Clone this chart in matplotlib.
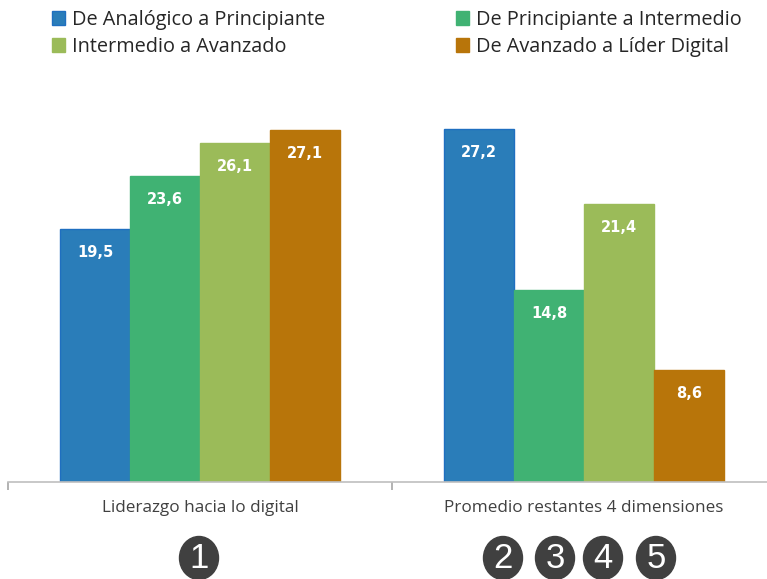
import matplotlib.pyplot as plt
from matplotlib.patches import Ellipse
import numpy as np

categories = ["Liderazgo hacia lo digital", "Promedio restantes 4 dimensiones"]
series = ["De Analógico a Principiante", "De Principiante a Intermedio",
          "Intermedio a Avanzado", "De Avanzado a Líder Digital"]
values = [
    [19.5, 27.2],
    [23.6, 14.8],
    [26.1, 21.4],
    [27.1, 8.6],
]
colors = ["#2a7db9", "#40b273", "#9bbb59", "#b8750a"]
edges = ["#1f6fc0", "#40b273", "#9bbb59", "#b8750a"]
badges = ["1", "2", "3", "4", "5"]

plt.rcParams['font.family'] = ['Open Sans', 'DejaVu Sans']

fig = plt.figure(figsize=(7.67, 5.79), dpi=100)
# plot area runs a little past the right edge, as in the source
ax = fig.add_axes([8 / 767, 97 / 579, 768 / 767, 385 / 579])

x = np.arange(len(categories))
w = 0.182
bars = []
for i, (s, v) in enumerate(zip(series, values)):
    b = ax.bar(x + (i - 1.5) * w, v, w, color=colors[i], edgecolor=edges[i],
               linewidth=1, label=s)
    bars.append(b)
    for rect, val in zip(b, v):
        ax.annotate(f"{val:.1f}".replace(".", ","),
                    (rect.get_x() + rect.get_width() / 2, rect.get_height()),
                    xytext=(0, -17), textcoords="offset points",
                    ha="center", va="center", color="white",
                    fontsize=10.5, fontweight="bold", family="DejaVu Sans")

ax.set_xlim(-0.5, 1.5)
ax.set_ylim(0, 29.66)
for sp in ["top", "right", "left"]:
    ax.spines[sp].set_visible(False)
ax.spines["bottom"].set_color("#bfbfbf")
ax.spines["bottom"].set_linewidth(1.2)
ax.set_yticks([])
ax.set_xticks([-0.5, 0.5, 1.5])
ax.set_xticklabels(["", "", ""])
ax.tick_params(axis="x", length=6, width=1.2, color="#a6a6a6")
for xi, c in zip(x, categories):
    ax.text(xi, -0.067, c, transform=ax.get_xaxis_transform(), ha="center",
            va="center", fontsize=12.3, color="#404040")

handles = [bars[0], bars[2], bars[1], bars[3]]
labels = [series[0], series[2], series[1], series[3]]
fig.legend(handles, labels, ncol=2, loc="upper left",
           bbox_to_anchor=(52 / 767, 1 - 10 / 579), frameon=False,
           fontsize=14.3, borderpad=0, borderaxespad=0,
           handlelength=0.65, handleheight=0.65, handletextpad=0.35,
           columnspacing=6.6, labelspacing=0.35, labelcolor="#262626")

# numbered badges under the groups
badge_x = [199, 503, 555, 603, 656]
for bx, t in zip(badge_x, badges):
    fig.patches.append(Ellipse((bx / 767, 1 - 558 / 579), 39 / 767, 43 / 579,
                               transform=fig.transFigure, color="#404040"))
    fig.text(bx / 767, 1 - 559 / 579, t, ha="center", va="center",
             color="white", fontsize=25,
             family=["Liberation Sans Narrow", "Liberation Sans"])

fig.savefig("out.png", dpi=100)
